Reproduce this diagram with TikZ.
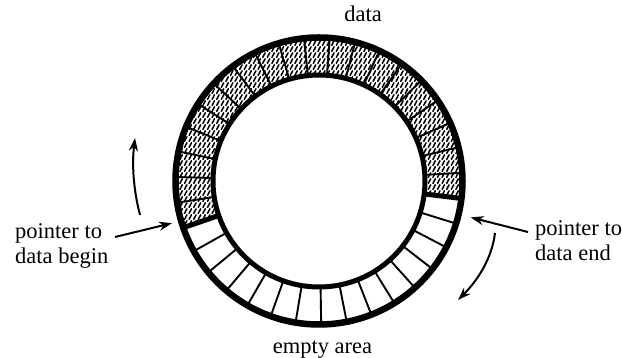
\documentclass[tikz,border=0pt]{standalone}
\usepackage{fontspec}
\newfontfamily\lblfont{LiberationSerif}[Extension=.ttf, UprightFont=*-Regular, BoldFont=*-Bold]
\usetikzlibrary{patterns,arrows.meta}
\pgfdeclarepatternformonly{squig}{\pgfpoint{-1pt}{-1pt}}{\pgfpoint{6pt}{7pt}}{\pgfpoint{4.6pt}{6pt}}{%
  \pgfsetlinewidth{1.5pt}%
  \pgfsetroundcap
  \pgfpathmoveto{\pgfpoint{0.5pt}{0.6pt}}%
  \pgfpathlineto{\pgfpoint{2.9pt}{5.2pt}}%
  \pgfusepath{stroke}%
}
\begin{document}
\begin{tikzpicture}[x=1pt,y=1pt,
  lbl/.style={font=\lblfont\fontsize{22.5}{25}\selectfont, inner sep=0pt, align=left},
  divider/.style={line width=1.9pt},
  bound/.style={line width=5pt},
  ptr/.style={line width=2pt, -{Stealth[length=13pt,width=9pt]}},
  turn/.style={line width=2pt, -{Stealth[length=13pt,width=9pt]}}]
\useasboundingbox (0,0) rectangle (622,358);
\coordinate (c) at (319,177);
\begin{scope}[shift={(c)}]
  % hatched data region
  \fill[pattern=squig] (-7:146) arc[start angle=-7, end angle=199, radius=146]
     -- (199:105) arc[start angle=199, end angle=-7, radius=105] -- cycle;
  % data cell dividers
  \foreach \k in {1,...,19}{
    \draw[divider] ({-7+\k*10.3}:105) -- ({-7+\k*10.3}:145);
  }
  % empty cell dividers
  \foreach \k in {1,...,14}{
    \draw[divider] ({199+\k*154/15}:105) -- ({199+\k*154/15}:145);
  }
  % boundaries between data and empty area
  \draw[bound] (199:105) -- (199:145);
  \draw[bound] (-7:105) -- (-7:145);
  % ring outlines
  \draw[line width=6.5pt] (0,0) circle[radius=143.5];
  \draw[line width=5pt] (0,0) circle[radius=106];
  % arrow targets
  \coordinate (begintip) at (196:153);
  \coordinate (endtip) at (-13.5:156);
\end{scope}

\node[lbl, anchor=base] (data) at (363,336.5) {data};
\node[lbl, anchor=base] (empty) at (322.5,4.7) {empty area};
\node[lbl, anchor=west] (pbegin) at (15,112) {pointer to\\data begin};
\node[lbl, anchor=west] (pend) at (535,117) {pointer to\\data end};

\coordinate (lt) at (115,121);
\coordinate (rt) at (528,126);
\draw[ptr] (lt) -- (begintip);
\draw[ptr] (rt) -- (endtip);

\coordinate (la) at (140,143);
\coordinate (lb) at (135,220);
\draw[turn] (la) .. controls (133,170) and (132,195) .. (lb);
\coordinate (ra) at (495,125);
\coordinate (rb) at (458,58);
\draw[turn] (ra) .. controls (492,100) and (478,78) .. (rb);
\end{tikzpicture}
\end{document}
